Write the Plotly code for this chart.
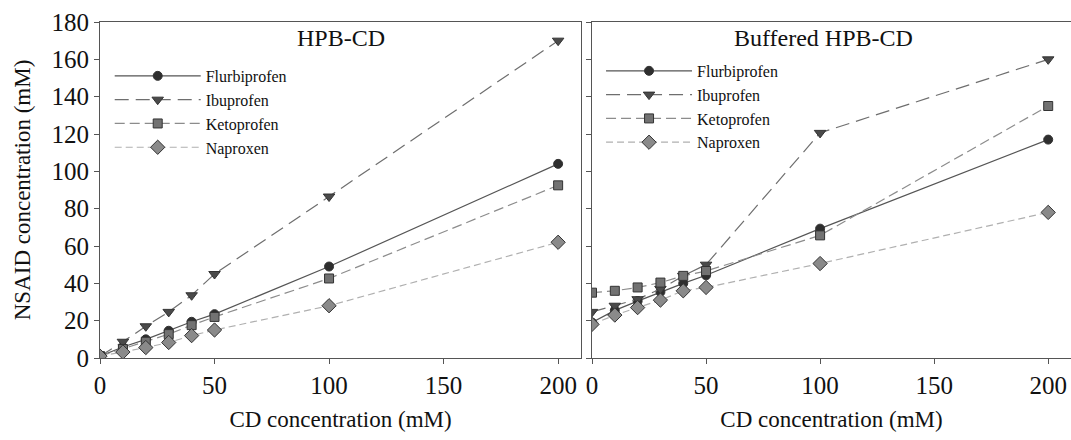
import plotly.graph_objects as go
from plotly.subplots import make_subplots

# CD concentration (mM)
cd_conc = [0, 10, 20, 30, 40, 50, 100, 200]

# HPB-CD panel
hpb_flurbiprofen = [1, 5.9, 10, 14.6, 19.4, 23.5, 49, 104]
hpb_ibuprofen = [1, 8.7, 17, 24.7, 33.6, 45, 86.5, 170]
hpb_ketoprofen = [1, 4.8, 8.7, 12.8, 17.6, 22, 42.6, 92.5]
hpb_naproxen = [1, 3.2, 5.6, 8.3, 12, 15, 28, 62]

# Buffered HPB-CD panel
buf_flurbiprofen = [19, 25.5, 30.5, 35.4, 40, 44.3, 69.3, 117]
buf_ibuprofen = [24.7, 28, 31.5, 37, 44, 50, 120.6, 160]
buf_ketoprofen = [35, 36, 37.8, 40.4, 44, 46.6, 65.7, 135]
buf_naproxen = [18, 23, 27, 31, 36, 37.8, 50.6, 78]

drugs = ["Flurbiprofen", "Ibuprofen", "Ketoprofen", "Naproxen"]
styles = {
    "Flurbiprofen": dict(line="#555555", dash="solid", symbol="circle", marker="#2e2e2e", size=9),
    "Ibuprofen": dict(line="#6e6e6e", dash="14px,7px", symbol="triangle-down", marker="#4a4a4a", size=10),
    "Ketoprofen": dict(line="#8c8c8c", dash="10px,5px", symbol="square", marker="#727272", size=9),
    "Naproxen": dict(line="#b0b0b0", dash="7px,4px", symbol="diamond", marker="#8a8a8a", size=11),
}

panels = [
    (1, "legend", [hpb_flurbiprofen, hpb_ibuprofen, hpb_ketoprofen, hpb_naproxen]),
    (2, "legend2", [buf_flurbiprofen, buf_ibuprofen, buf_ketoprofen, buf_naproxen]),
]

font_family = "Liberation Serif, Times New Roman, serif"

fig = make_subplots(rows=1, cols=2, horizontal_spacing=0.011)

for col, legend_name, series in panels:
    for drug, values in zip(drugs, series):
        s = styles[drug]
        fig.add_trace(
            go.Scatter(
                x=cd_conc,
                y=values,
                name=drug,
                mode="lines+markers",
                legend=legend_name,
                line=dict(color=s["line"], width=1.2, dash=s["dash"]),
                marker=dict(symbol=s["symbol"], size=s["size"], color=s["marker"],
                            line=dict(color="#333333", width=1)),
            ),
            row=1, col=col,
        )

axis_style = dict(
    showline=True, linecolor="#555555", linewidth=1, mirror=True,
    ticks="outside", ticklen=5, tickcolor="#555555",
    showgrid=False, zeroline=False, automargin=False,
    tickfont=dict(family=font_family, size=25, color="#111111"),
)

fig.update_xaxes(axis_style)
fig.update_yaxes(axis_style)
fig.update_xaxes(range=[0, 210], tickvals=[0, 50, 100, 150, 200],
                 title_text="CD concentration (mM)",
                 title_font=dict(family=font_family, size=23, color="#111111"),
                 title_standoff=12)
fig.update_xaxes(domain=[0, 0.4954], row=1, col=1)
fig.update_xaxes(domain=[0.5067, 1], row=1, col=2)
fig.update_yaxes(range=[0, 180], dtick=20)
fig.update_yaxes(title_text="NSAID concentration (mM)",
                 title_font=dict(family=font_family, size=23, color="#111111"),
                 title_standoff=14, row=1, col=1)
fig.update_yaxes(showticklabels=False, row=1, col=2)

legend_style = dict(
    bgcolor="rgba(0,0,0,0)", borderwidth=0,
    font=dict(family=font_family, size=16, color="#111111"),
    itemwidth=86, tracegroupgap=0, yanchor="top", xanchor="left",
)

fig.update_layout(
    width=1071, height=440,
    margin=dict(l=100, r=0, t=22, b=82),
    plot_bgcolor="white", paper_bgcolor="white",
    font=dict(family=font_family, color="#111111"),
    legend=dict(legend_style, x=0.01, y=0.89),
    legend2=dict(legend_style, x=0.516, y=0.905),
    annotations=[
        dict(text="HPB-CD", x=0.2477, y=0.997, xref="paper", yref="paper",
             xanchor="center", yanchor="top", showarrow=False,
             font=dict(family=font_family, size=24, color="#111111")),
        dict(text="Buffered HPB-CD", x=0.745, y=0.997, xref="paper", yref="paper",
             xanchor="center", yanchor="top", showarrow=False,
             font=dict(family=font_family, size=24, color="#111111")),
    ],
)

# drop the browser's default body margin so the figure fills the window
fig.write_html(
    "out.html",
    config={"displayModeBar": False},
    post_script="document.body.style.margin='0';document.body.style.overflow='hidden';",
)
